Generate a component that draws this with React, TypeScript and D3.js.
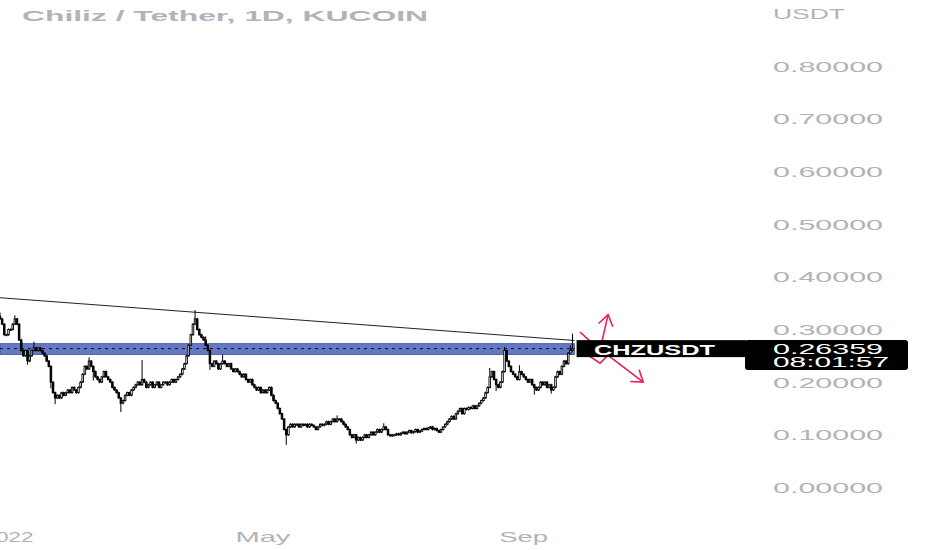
import React from "react";
import * as d3 from "d3";

// Daily closes of CHZ/USDT starting 2021-12-28
const START_DATE = new Date(2021, 11, 28);
const FIRST_OPEN = 0.325;
const CLOSES: number[] = [
  0.32, 0.31, 0.29, 0.29, 0.30, 0.30, 0.31, 0.32, 0.31, 0.28,
  0.26, 0.25, 0.26, 0.24, 0.25, 0.26, 0.265, 0.26, 0.265, 0.26,
  0.255, 0.25, 0.24, 0.23, 0.20, 0.18, 0.17, 0.175, 0.17, 0.18,
  0.175, 0.18, 0.185, 0.18, 0.19, 0.185, 0.18, 0.19, 0.20, 0.215,
  0.23, 0.225, 0.24, 0.23, 0.22, 0.21, 0.205, 0.20, 0.21, 0.22,
  0.21, 0.205, 0.20, 0.19, 0.185, 0.18, 0.17, 0.16, 0.165, 0.175,
  0.18, 0.175, 0.185, 0.19, 0.195, 0.20, 0.195, 0.205, 0.20, 0.19,
  0.195, 0.20, 0.19, 0.195, 0.20, 0.19, 0.195, 0.20, 0.20, 0.195,
  0.20, 0.205, 0.20, 0.205, 0.21, 0.215, 0.225, 0.235, 0.25, 0.27,
  0.29, 0.31, 0.32, 0.30, 0.29, 0.285, 0.28, 0.27, 0.26, 0.235,
  0.23, 0.24, 0.235, 0.225, 0.235, 0.24, 0.235, 0.23, 0.235, 0.225,
  0.22, 0.225, 0.22, 0.215, 0.21, 0.215, 0.205, 0.20, 0.205, 0.195,
  0.19, 0.185, 0.19, 0.18, 0.185, 0.18, 0.185, 0.19, 0.175, 0.165,
  0.16, 0.15, 0.14, 0.13, 0.11, 0.10, 0.115, 0.12, 0.115, 0.12,
  0.12, 0.115, 0.12, 0.118, 0.12, 0.115, 0.12, 0.118, 0.115, 0.11,
  0.115, 0.12, 0.118, 0.12, 0.125, 0.12, 0.125, 0.13, 0.125, 0.13,
  0.13, 0.125, 0.12, 0.115, 0.11, 0.10, 0.095, 0.10, 0.09, 0.095,
  0.09, 0.095, 0.10, 0.095, 0.10, 0.105, 0.10, 0.105, 0.11, 0.105,
  0.11, 0.115, 0.11, 0.10, 0.098, 0.10, 0.10, 0.102, 0.10, 0.103,
  0.105, 0.102, 0.105, 0.108, 0.104, 0.106, 0.11, 0.105, 0.107, 0.11,
  0.112, 0.11, 0.113, 0.115, 0.11, 0.112, 0.108, 0.105, 0.11, 0.115,
  0.12, 0.125, 0.13, 0.135, 0.13, 0.14, 0.145, 0.15, 0.14, 0.15,
  0.148, 0.152, 0.15, 0.155, 0.15, 0.155, 0.16, 0.165, 0.17, 0.18,
  0.19, 0.21, 0.22, 0.205, 0.195, 0.19, 0.20, 0.22, 0.26, 0.24,
  0.23, 0.22, 0.215, 0.21, 0.205, 0.22, 0.215, 0.21, 0.205, 0.20,
  0.205, 0.195, 0.19, 0.185, 0.19, 0.20, 0.195, 0.20, 0.19, 0.195,
  0.185, 0.19, 0.21, 0.22, 0.215, 0.23, 0.24, 0.235, 0.255, 0.26,
  0.2636,
];
// Notable wick extremes: [index, price]
const WICK_HIGHS: [number, number][] = [
  [0, 0.33], [7, 0.325], [16, 0.275], [42, 0.245], [67, 0.24], [92, 0.335], [97, 0.285],
  [105, 0.25], [159, 0.135], [181, 0.12], [231, 0.225], [238, 0.265], [245, 0.23],
  [270, 0.29], [269, 0.268],
];
const WICK_LOWS: [number, number][] = [
  [13, 0.235], [24, 0.19], [26, 0.16], [44, 0.205], [57, 0.145], [99, 0.225],
  [135, 0.083], [168, 0.085], [234, 0.185], [252, 0.178], [260, 0.18],
];

const Y_TICKS = [0, 0.1, 0.2, 0.3, 0.4, 0.5, 0.6, 0.7, 0.8];
const X_TICKS: { date: Date; label: string; width: number }[] = [
  { date: new Date(2022, 0, 1), label: "2022", width: 50 },
  { date: new Date(2022, 4, 1), label: "May", width: 55 },
  { date: new Date(2022, 8, 1), label: "Sep", width: 49 },
];

const TITLE = "Chiliz / Tether, 1D, KUCOIN";
const CURRENCY = "USDT";
const SYMBOL = "CHZUSDT";
const LAST_PRICE = 0.26359;
const COUNTDOWN = "08:01:57";

// Drawings: [day index, price]
const TREND_LINE: [number, number][] = [[-1, 0.3605], [271, 0.279]];
const BAND: [number, number] = [0.2525, 0.273];
const ARROW_UP: [number, number][] = [[273.6, 0.295], [283, 0.261], [286.8, 0.328]];
const ARROW_DOWN: [number, number][] = [[277.4, 0.251], [283, 0.236], [286.8, 0.251], [303.4, 0.2]];

const W = 932;
const H = 550;
const GREY = "#b0b3ba";
const PINK = "#e91e63";

export default function App() {
  const dates = CLOSES.map((_, i) => d3.timeDay.offset(START_DATE, i));
  const x = d3
    .scaleTime()
    .domain([new Date(2022, 0, 1), new Date(2022, 8, 1)])
    .range([8.5, 523.7]);
  const y = d3.scaleLinear().domain([0, 0.8]).range([487.5, 66]);
  const xi = (i: number) => x(d3.timeHour.offset(START_DATE, i * 24));

  const hiMap = new Map(WICK_HIGHS);
  const loMap = new Map(WICK_LOWS);
  const candles = CLOSES.map((c, i) => {
    const o = i === 0 ? FIRST_OPEN : CLOSES[i - 1];
    const hi = Math.max(o, c, hiMap.get(i) ?? 0);
    const lo = Math.min(o, c, loMap.get(i) ?? 1);
    return { date: dates[i], o, c, hi, lo };
  });
  const bw = 1.6;

  const line = d3
    .line<[number, number]>()
    .x((d) => xi(d[0]))
    .y((d) => y(d[1]));

  const arrowHead = (pts: [number, number][]) => {
    const a = pts[pts.length - 2];
    const b = pts[pts.length - 1];
    const x1 = xi(a[0]), y1 = y(a[1]), x2 = xi(b[0]), y2 = y(b[1]);
    const ang = Math.atan2(y2 - y1, x2 - x1);
    const L = 13;
    const s = 0.6;
    return `M${x2 - L * Math.cos(ang - s)},${y2 - L * Math.sin(ang - s)}L${x2},${y2}L${x2 - L * Math.cos(ang + s)},${y2 - L * Math.sin(ang + s)}`;
  };

  const bandX0 = 0;
  const bandX1 = xi(271);
  const py = y(LAST_PRICE);

  return (
    <div style={{ position: "absolute", left: 0, top: 0, width: W, height: H, background: "#fff" }}>
      <svg width={W} height={H} style={{ display: "block" }} fontFamily="'Liberation Sans', Arial, sans-serif">
        <rect width={W} height={H} fill="#fff" />
        <text x={22} y={20.5} fontSize={15} fontWeight="bold" fill={GREY} textLength={406} lengthAdjust="spacingAndGlyphs">
          {TITLE}
        </text>
        <text x={773} y={18.5} fontSize={14.5} fill={GREY} textLength={72} lengthAdjust="spacingAndGlyphs">
          {CURRENCY}
        </text>
        {Y_TICKS.map((t) => (
          <text key={t} x={773} y={y(t) + 5.5} fontSize={14.5} fill={GREY} textLength={110} lengthAdjust="spacingAndGlyphs">
            {d3.format(".5f")(t)}
          </text>
        ))}
        {X_TICKS.map((t) => (
          <text key={t.label} x={x(t.date)} y={541.5} fontSize={14.5} fill={GREY} textAnchor="middle" textLength={t.width} lengthAdjust="spacingAndGlyphs">
            {t.label}
          </text>
        ))}

        {/* band */}
        <rect x={bandX0} y={y(BAND[1])} width={bandX1 - bandX0} height={y(BAND[0]) - y(BAND[1])} fill="#6479c3" stroke="#3c4f9e" strokeWidth={0.8} />
        <line x1={bandX0} x2={bandX1} y1={py} y2={py} stroke="#111" strokeWidth={1} strokeDasharray="3 4" />

        {/* trend line */}
        <path d={line(TREND_LINE) ?? ""} stroke="#222" strokeWidth={1} fill="none" />

        {/* candles */}
        {candles.map((d, i) => {
          const cx = x(d.date);
          const up = d.c >= d.o;
          const top = y(Math.max(d.o, d.c));
          const bot = y(Math.min(d.o, d.c));
          return (
            <g key={i}>
              <line x1={cx} x2={cx} y1={y(d.hi) - 1} y2={y(d.lo) + 1} stroke="#000" strokeWidth={1} />
              <rect x={cx - bw / 2} y={top} width={bw} height={Math.max(bot - top, 1)} fill={up ? "#fff" : "#000"} stroke="#000" strokeWidth={0.9} />
            </g>
          );
        })}

        {/* arrows */}
        <path d={line(ARROW_UP) ?? ""} stroke={PINK} strokeWidth={1.6} fill="none" />
        <path d={arrowHead(ARROW_UP)} stroke={PINK} strokeWidth={1.6} fill="none" />
        <path d={line(ARROW_DOWN) ?? ""} stroke={PINK} strokeWidth={1.6} fill="none" />
        <path d={arrowHead(ARROW_DOWN)} stroke={PINK} strokeWidth={1.6} fill="none" />

        {/* symbol label */}
        <rect x={bandX1 + 2} y={py - 8.5} width={746 - bandX1 - 2} height={17} fill="#000" />
        <text x={594} y={py + 6} fontSize={15} fontWeight="bold" fill="#fff" textLength={121} lengthAdjust="spacingAndGlyphs">
          {SYMBOL}
        </text>
        <rect x={745} y={py - 8.5} width={163} height={30} rx={3} fill="#000" />
        <text x={773} y={py + 5} fontSize={14.5} fill="#fff" textLength={110} lengthAdjust="spacingAndGlyphs">
          {d3.format(".5f")(LAST_PRICE)}
        </text>
        <text x={773} y={py + 18} fontSize={14.5} fill="#fff" textLength={116} lengthAdjust="spacingAndGlyphs">
          {COUNTDOWN}
        </text>
      </svg>
    </div>
  );
}
